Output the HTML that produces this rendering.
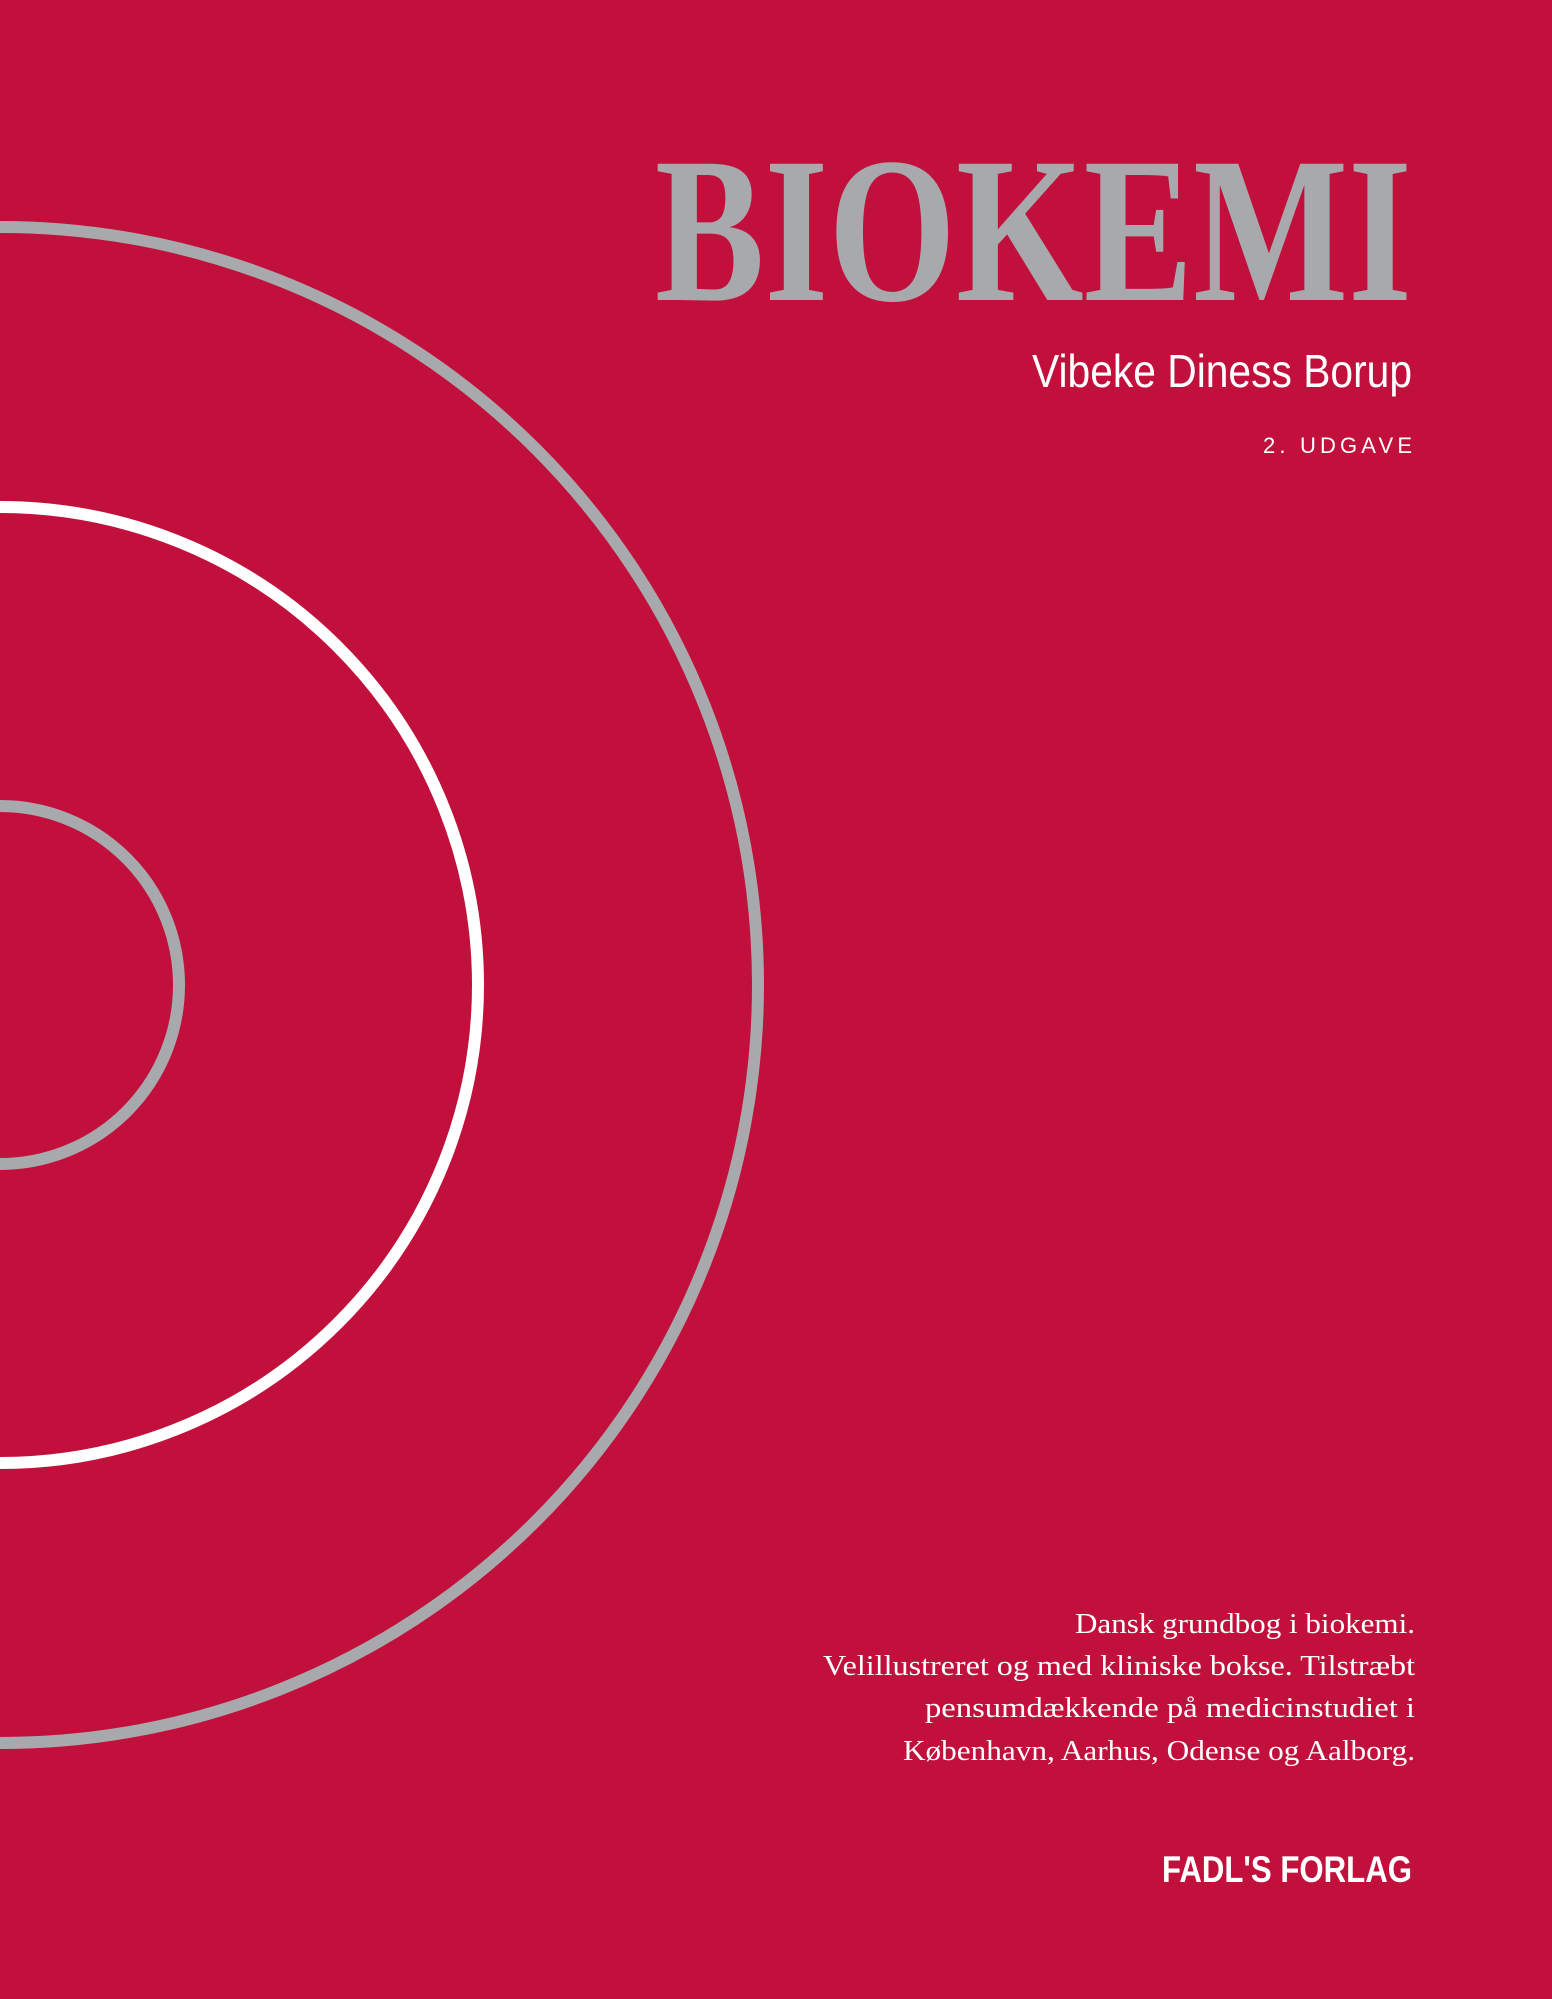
<!DOCTYPE html>
<html><head><meta charset="utf-8"><style>
html,body{margin:0;padding:0;background:#c2103c;}
svg{display:block;}
</style></head><body>
<svg width="1552" height="1999" viewBox="0 0 1552 1999" xmlns="http://www.w3.org/2000/svg">
<rect x="0" y="0" width="1552" height="1999" fill="#c2103c"/>
<circle cx="0" cy="985" r="758" fill="none" stroke="#a8a9ad" stroke-width="12"/>
<circle cx="0" cy="985" r="478" fill="none" stroke="#ffffff" stroke-width="12"/>
<circle cx="0" cy="985" r="179" fill="none" stroke="#a8a9ad" stroke-width="12"/>
<text x="655" y="300" font-family="Liberation Serif, serif" font-weight="bold" font-size="208" fill="#a8a9ad" textLength="757" lengthAdjust="spacingAndGlyphs">BIOKEMI</text>
<text x="1032" y="387" font-family="Liberation Sans, sans-serif" font-size="46" fill="#ffffff" textLength="380" lengthAdjust="spacingAndGlyphs">Vibeke Diness Borup</text>
<text x="1263" y="453" font-family="Liberation Sans, sans-serif" font-size="22" fill="#ffffff" textLength="149" lengthAdjust="spacing">2. UDGAVE</text>
<g font-family="Liberation Serif, serif" font-size="28" fill="#ffffff">
<text x="1075" y="1633" textLength="340" lengthAdjust="spacingAndGlyphs">Dansk grundbog i biokemi.</text>
<text x="823" y="1675" textLength="592" lengthAdjust="spacingAndGlyphs">Velillustreret og med kliniske bokse. Tilstræbt</text>
<text x="925" y="1717" textLength="490" lengthAdjust="spacingAndGlyphs">pensumdækkende på medicinstudiet i</text>
<text x="903" y="1760" textLength="512" lengthAdjust="spacingAndGlyphs">København, Aarhus, Odense og Aalborg.</text>
</g>
<text x="1162" y="1882" font-family="Liberation Sans, sans-serif" font-weight="bold" font-size="37" fill="#ffffff" textLength="250" lengthAdjust="spacingAndGlyphs">FADL'S FORLAG</text>
</svg>
</body></html>
